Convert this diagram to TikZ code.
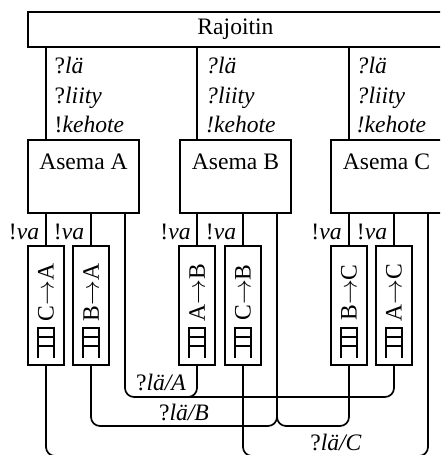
\documentclass[tikz,border=0pt]{standalone}
\usepackage{fontspec}
\setmainfont{Liberation Serif}
\usetikzlibrary{positioning}
\tikzset{
  base/.style={font=\fontsize{23.6}{29.5}\selectfont, text=black, inner sep=0pt},
  box/.style={base, draw=black, line width=1.7pt, fill=white, align=center},
  rajoitin/.style={box, minimum width=432, minimum height=35},
  asema/.style={box, minimum width=111, minimum height=73},
  jono/.style={box, minimum width=36, minimum height=119},
  jononimi/.style={base, rotate=90},
  note/.style={base, align=left},
  wire/.style={line width=1.7pt, draw=black},
  kulma/.style={wire, rounded corners=9pt},
  symboli/.style={line width=1.7pt, draw=black},
}
\begin{document}
\begin{tikzpicture}[x=1pt,y=-1pt]
  \useasboundingbox (0,0) rectangle (440,455);
  \clip (0,0) rectangle (440,455);

  \node[rajoitin] (raj) at (244,29.5) {};
  \node[base] (rajnimi) at (235.5,29) {Rajoitin};

  \node[asema] (asA) at (83.5,176.5) {Asema A\\~};
  \node[asema] (asB) at (235.5,176.5) {Asema B\\~};
  \node[asema] (asC) at (386.5,176.5) {Asema C\\~};

  \node[jono] (qCA) at (46,305.5) {};
  \node[jono] (qBA) at (91,305.5) {};
  \node[jono] (qAB) at (197,305.5) {};
  \node[jono] (qCB) at (243,305.5) {};
  \node[jono] (qBC) at (349,305.5) {};
  \node[jono] (qAC) at (394,305.5) {};

  \node[jononimi] (nCA) at (46,292.5) {C$\rightarrow$A};
  \node[jononimi] (nBA) at (91,292.5) {B$\rightarrow$A};
  \node[jononimi] (nAB) at (197,292.5) {A$\rightarrow$B};
  \node[jononimi] (nCB) at (243,292.5) {C$\rightarrow$B};
  \node[jononimi] (nBC) at (349,292.5) {B$\rightarrow$C};
  \node[jononimi] (nAC) at (394,292.5) {A$\rightarrow$C};

  \draw[symboli] (38,358) -- (38,328) -- (54,328) -- (54,358) (38,337) -- (54,337) (38,346) -- (54,346);
  \draw[symboli] (83,358) -- (83,328) -- (99,328) -- (99,358) (83,337) -- (99,337) (83,346) -- (99,346);
  \draw[symboli] (189,358) -- (189,328) -- (205,328) -- (205,358) (189,337) -- (205,337) (189,346) -- (205,346);
  \draw[symboli] (235,358) -- (235,328) -- (251,328) -- (251,358) (235,337) -- (251,337) (235,346) -- (251,346);
  \draw[symboli] (341,358) -- (341,328) -- (357,328) -- (357,358) (341,337) -- (357,337) (341,346) -- (357,346);
  \draw[symboli] (386,358) -- (386,328) -- (402,328) -- (402,358) (386,337) -- (402,337) (386,346) -- (402,346);

  \node[note,anchor=west] (lA) at (54.5,95) {?\textit{lä}\\?\textit{liity}\\!\textit{kehote}};
  \node[note,anchor=west] (lB) at (206,95) {\textit{?lä}\\\textit{?liity}\\\textit{!kehote}};
  \node[note,anchor=west] (lC) at (356.5,95) {\textit{?lä}\\\textit{?liity}\\\textit{!kehote}};

  \node[base] (vCA) at (24,232) {!\textit{va}};
  \node[base] (vBA) at (69,232) {!\textit{va}};
  \node[base] (vAB) at (175.5,232) {!\textit{va}};
  \node[base] (vCB) at (221,232) {!\textit{va}};
  \node[base] (vBC) at (326.5,232) {!\textit{va}};
  \node[base] (vAC) at (372,232) {!\textit{va}};

  \node[base] (hA) at (161,382) {?\textit{lä/A}};
  \node[base] (hB) at (184,412) {?\textit{lä/B}};
  \node[base] (hC) at (336,442) {?\textit{lä/C}};

  \draw[wire] (qCA.north |- raj.south) -- (qCA.north |- asA.north);
  \draw[wire] (qAB.north |- raj.south) -- (qAB.north |- asB.north);
  \draw[wire] (qBC.north |- raj.south) -- (qBC.north |- asC.north);

  \draw[wire] (qCA.north |- asA.south) -- (qCA.north);
  \draw[wire] (qBA.north |- asA.south) -- (qBA.north);
  \draw[wire] (qAB.north |- asB.south) -- (qAB.north);
  \draw[wire] (qCB.north |- asB.south) -- (qCB.north);
  \draw[wire] (qBC.north |- asC.south) -- (qBC.north);
  \draw[wire] (qAC.north |- asC.south) -- (qAC.north);

  \coordinate (ulosA) at (125,213);
  \coordinate (ulosB) at (277,213);
  \coordinate (ulosC) at (428,213);
  \coordinate (riviA) at (0,397);
  \coordinate (riviB) at (0,426);
  \coordinate (riviC) at (0,456);
  \coordinate (liitosA) at (170,397);
  \coordinate (liitosC) at (270,456);

  \draw[kulma] (ulosA) -- (ulosA |- riviA) -- (qAC.south |- riviA) -- (qAC.south);
  \draw[kulma] (qAB.south) -- (qAB.south |- riviA) -- (liitosA);
  \draw[kulma] (qBA.south) -- (qBA.south |- riviB) -- (ulosB |- riviB) -- (ulosB);
  \draw[kulma] (ulosB) -- (ulosB |- riviB) -- (qBC.south |- riviB) -- (qBC.south);
  \draw[kulma] (qCA.south) -- (qCA.south |- riviC) -- (ulosC |- riviC) -- (ulosC);
  \draw[kulma] (qCB.south) -- (qCB.south |- riviC) -- (liitosC);
\end{tikzpicture}
\end{document}
